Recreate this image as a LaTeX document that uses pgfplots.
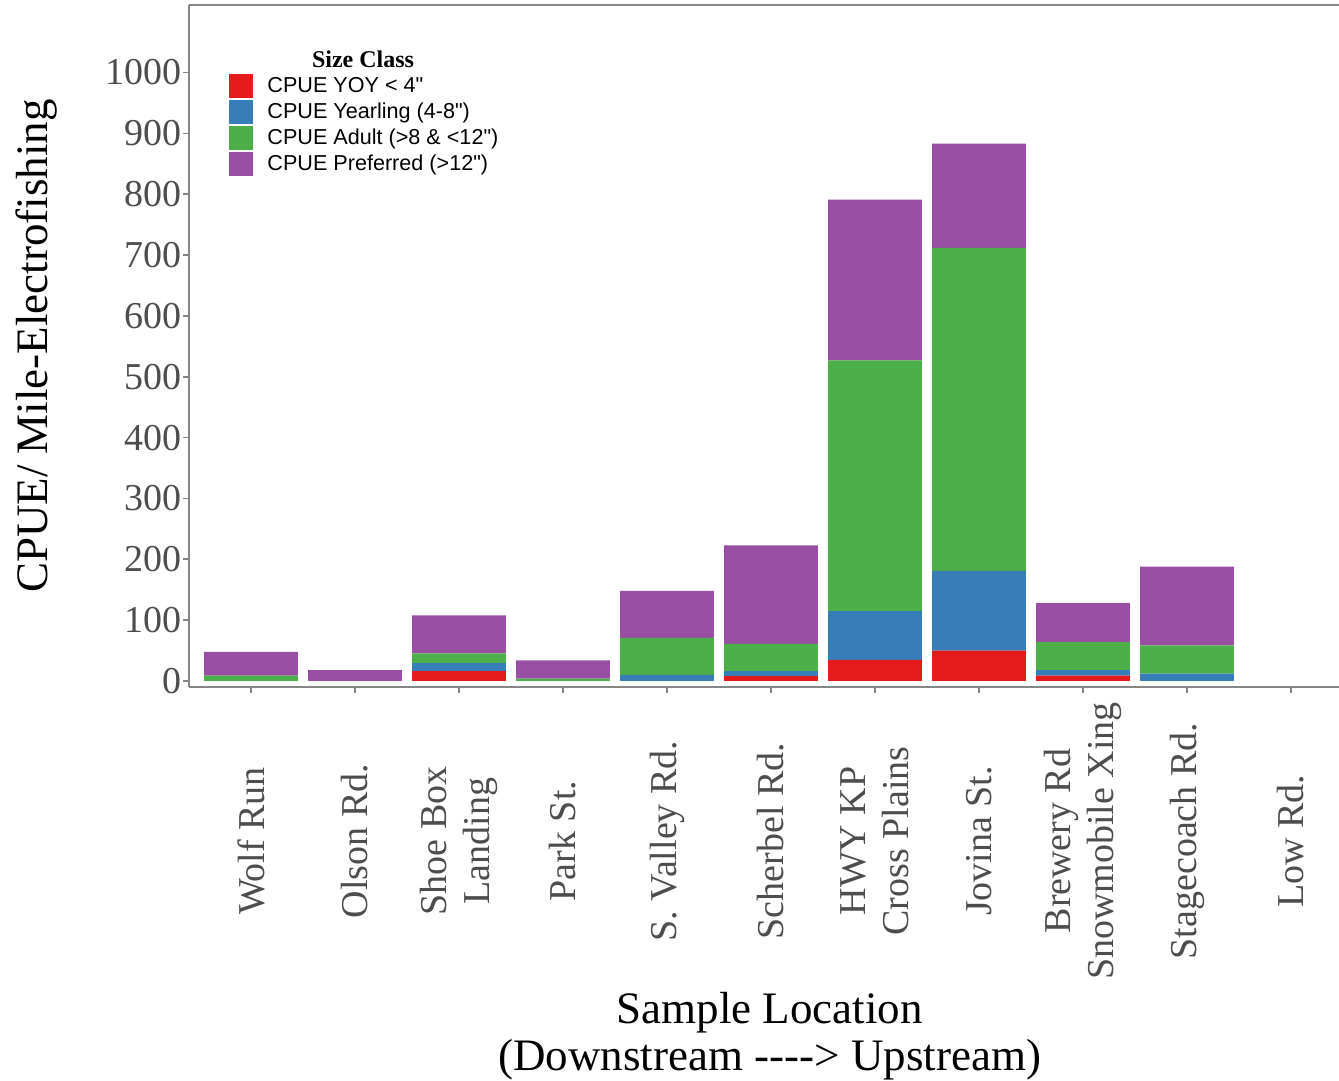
\documentclass[border=0pt]{standalone}
\usepackage{pgfplots}
\pgfplotsset{compat=1.18}
\usepackage{pgfplotstable}
\usepackage{fontspec}
\setmainfont{Liberation Serif}
\newfontfamily\legfont{Liberation Sans}
\definecolor{cRed}{HTML}{E41A1C}
\definecolor{cBlue}{HTML}{377EB8}
\definecolor{cGreen}{HTML}{4DAF4A}
\definecolor{cPurple}{HTML}{984EA3}
\definecolor{axgray}{HTML}{858585}
\definecolor{txtgray}{HTML}{4D4D4D}
\pgfplotstableread{
x yoy yearling adult pref
0 0 0 9 39
1 0 0 0 18
2 16 13.5 16 62.5
3 0 0 4 30
4 0 10 61 77
5 8 8 45 162
6 34.5 80.5 412 264
7 50 131 531 171
8 9 9 46 64
9 0 12 46.5 129.5
10 0 0 0 0
}\datatable
\begin{document}
\begin{tikzpicture}
\begin{axis}[
  name=ax,
  scale only axis,
  width=575pt, height=341pt,
  xmin=-0.596, xmax=10.462,
  ymin=-9.9, ymax=1111,
  ybar stacked,
  bar width=0.9,
  axis x line=box,
  axis y line=left,
  axis line style={-, draw=axgray, line width=0.8pt},
  xtick pos=left,
  tick align=outside,
  major tick length=3pt,
  tick style={draw=axgray, line width=0.8pt},
  xtick={0,...,10},
  xticklabels={Wolf Run, Olson Rd., {Shoe Box\\Landing}, Park St., S. Valley Rd., Scherbel Rd., {HWY KP\\Cross Plains}, Jovina St., {Brewery Rd\\Snowmobile Xing}, Stagecoach Rd., Low Rd.},
  ytick={0,100,...,1000},
  /pgf/number format/assume math mode=true,
  /pgf/number format/set thousands separator={},
  yticklabel style={font=\fontsize{19}{19}\selectfont, text=txtgray, anchor=east, inner sep=0pt, xshift=-0.5pt},
  xticklabel style={font=\fontsize{19}{21.5}\selectfont, text=txtgray, rotate=90, anchor=center, align=center, inner sep=0pt, xshift=-74pt},
  xlabel={Sample Location\\(Downstream {-}{-}{-}{-}> Upstream)},
  xlabel style={font=\fontsize{22.5}{23.5}\selectfont, align=center, at={(axis description cs:0.505,0)}, anchor=north, inner sep=0pt, yshift=-152.5pt},
  ylabel={CPUE/ Mile-Electrofishing},
  ylabel style={font=\fontsize{22.5}{23.5}\selectfont, at={(axis description cs:-0.133,0.5)}, rotate=0, anchor=center, inner sep=0pt},
  legend style={at={(axis description cs:0.0348,0.8988)}, anchor=north west, draw=none, fill=none, inner sep=0pt, row sep=1pt, font=\legfont\fontsize{10.8}{12}\selectfont, nodes={inner sep=0pt}, /tikz/column sep=7pt},
  legend cell align=left,
  legend image code/.code={\fill[#1] (0pt,-6pt) rectangle (12pt,6pt);},
]
\addplot+[fill=cRed, draw=none] table[x=x, y=yoy] {\datatable};
\addplot+[fill=cBlue, draw=none] table[x=x, y=yearling] {\datatable};
\addplot+[fill=cGreen, draw=none] table[x=x, y=adult] {\datatable};
\addplot+[fill=cPurple, draw=none] table[x=x, y=pref] {\datatable};
\legend{CPUE YOY < 4", CPUE Yearling (4-8"), CPUE Adult (>8 \& <12"), CPUE Preferred (>12")}
\node[font=\bfseries\fontsize{12}{12}\selectfont, anchor=center, inner sep=0pt] at (axis description cs:0.1513,0.9208) {Size Class};
\end{axis}
\path (ax.south west) ++(-94.5pt,-197pt) coordinate (bl);
\path (ax.north east) ++(0,2.5pt) coordinate (tr);
\pgfresetboundingbox
\path (bl) rectangle (tr);
\end{tikzpicture}
\end{document}
